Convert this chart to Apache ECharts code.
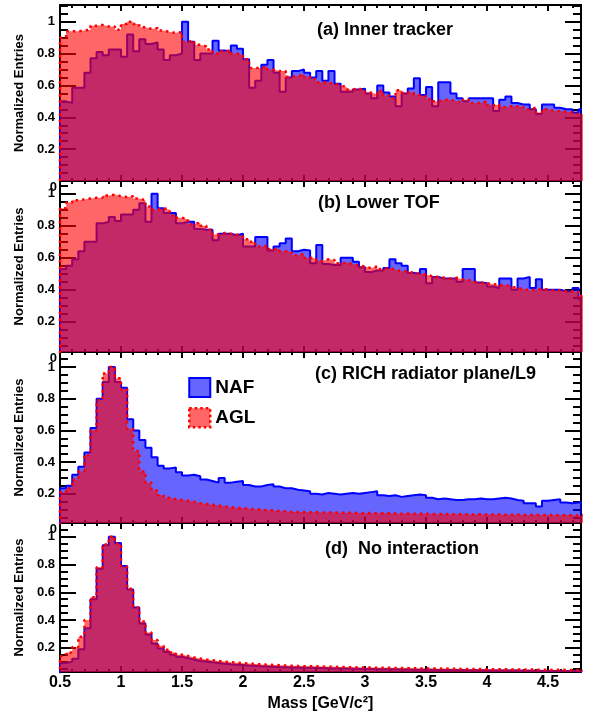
<!DOCTYPE html>
<html><head><meta charset="utf-8">
<script src="https://cdn.jsdelivr.net/npm/echarts@6/dist/echarts.min.js"></script>
<style>html,body{margin:0;padding:0;background:#fff}#c{width:595px;height:716px}</style>
</head><body><div id="c"></div>
<script>
// ---- histogram binning (lower edge of first bin, bin width) ----
const massStart = 0.5;
const binWidth = 0.05;
const massMax = 4.77;

// ---- (a) Inner tracker ----
const nafInner = [0.50,0.49,0.585,0.585,0.68,0.77,0.81,0.79,0.825,0.825,0.78,0.92,0.815,0.89,0.86,0.87,0.825,0.76,0.79,0.80,
  1.0,0.875,0.76,0.80,0.80,0.88,0.82,0.81,0.85,0.83,0.765,0.585,0.63,0.73,0.76,0.68,0.56,0.65,0.69,
  0.70,0.68,0.65,0.69,0.63,0.69,0.61,0.56,0.56,0.575,0.58,0.55,0.52,0.60,0.555,0.53,0.47,0.55,0.58,0.645,0.54,0.59,0.47,0.62,0.62,0.55,0.52,0.50,0.52,0.52,0.52,0.52,0.44,0.51,0.53,0.49,0.48,0.48,0.45,0.42,0.48,0.48,0.46,0.45,0.45,0.43,0.45];
const aglInner = [0.90,0.94,0.94,0.945,0.95,0.975,0.98,0.97,0.97,0.95,0.985,1.0,0.985,0.965,0.955,0.96,0.945,0.935,0.93,0.935,
  0.875,0.88,0.855,0.845,0.825,0.80,0.815,0.82,0.80,0.79,0.765,0.71,0.71,0.72,0.70,0.69,0.69,0.655,0.66,
  0.67,0.655,0.64,0.62,0.62,0.61,0.60,0.59,0.575,0.58,0.57,0.555,0.545,0.565,0.535,0.52,0.57,0.555,0.555,0.54,0.53,0.515,0.50,0.51,0.51,0.50,0.49,0.51,0.49,0.49,0.50,0.475,0.48,0.465,0.47,0.47,0.465,0.45,0.46,0.43,0.45,0.44,0.44,0.435,0.43,0.42,0.42];

// ---- (b) Lower TOF ----
const nafTof = [0.53,0.55,0.59,0.64,0.70,0.70,0.815,0.825,0.855,0.83,0.87,0.87,0.90,0.94,0.825,1.0,0.91,0.88,0.88,0.815,
  0.825,0.825,0.78,0.775,0.775,0.71,0.75,0.75,0.74,0.75,0.67,0.67,0.73,0.73,0.645,0.67,0.69,0.72,0.64,
  0.65,0.645,0.565,0.68,0.56,0.555,0.555,0.60,0.60,0.575,0.54,0.51,0.52,0.52,0.535,0.59,0.565,0.55,0.505,0.50,0.53,0.44,0.48,0.47,0.47,0.47,0.45,0.53,0.53,0.445,0.44,0.42,0.41,0.47,0.47,0.40,0.47,0.48,0.41,0.465,0.40,0.40,0.40,0.39,0.39,0.41,0.34];
const aglTof = [0.91,0.945,0.96,0.965,0.97,0.975,0.975,0.99,0.995,0.985,0.98,0.985,0.97,0.96,0.92,0.90,0.91,0.90,0.865,0.85,
  0.84,0.81,0.82,0.80,0.775,0.745,0.755,0.75,0.745,0.735,0.715,0.70,0.67,0.675,0.655,0.655,0.64,0.635,0.615,
  0.625,0.60,0.595,0.58,0.59,0.585,0.565,0.57,0.56,0.55,0.545,0.535,0.545,0.53,0.535,0.525,0.515,0.515,0.505,0.50,0.495,0.485,0.48,0.475,0.47,0.475,0.465,0.46,0.45,0.445,0.44,0.435,0.43,0.43,0.42,0.41,0.405,0.395,0.40,0.405,0.40,0.395,0.395,0.39,0.39,0.385,0.36];

// ---- (c) RICH radiator plane/L9 ----
const nafRich = [0.235,0.25,0.32,0.37,0.46,0.615,0.80,0.905,1.0,0.905,0.87,0.67,0.60,0.54,0.49,0.43,0.376,0.36,0.365,0.335,
  0.315,0.32,0.31,0.29,0.28,0.27,0.30,0.27,0.275,0.28,0.255,0.245,0.245,0.255,0.26,0.245,0.235,0.235,0.225,
  0.22,0.215,0.20,0.195,0.205,0.20,0.195,0.20,0.205,0.20,0.205,0.21,0.215,0.19,0.185,0.19,0.18,0.185,0.19,0.195,0.19,0.175,0.165,0.17,0.165,0.16,0.16,0.165,0.165,0.17,0.165,0.165,0.17,0.175,0.17,0.16,0.155,0.14,0.14,0.12,0.155,0.16,0.165,0.145,0.14,0.145,0.145];
const aglRich = [0.21,0.235,0.29,0.34,0.445,0.60,0.79,0.96,1.0,0.93,0.86,0.61,0.47,0.34,0.27,0.22,0.19,0.175,0.165,0.16,
  0.155,0.15,0.14,0.135,0.13,0.125,0.12,0.115,0.11,0.11,0.105,0.10,0.10,0.095,0.095,0.09,0.09,0.085,0.085,
  0.085,0.083,0.084,0.082,0.081,0.082,0.08,0.079,0.08,0.078,0.077,0.078,0.076,0.076,0.077,0.075,0.074,0.075,0.073,0.073,0.074,0.072,0.071,0.072,0.07,0.07,0.071,0.069,0.069,0.07,0.068,0.068,0.069,0.067,0.067,0.068,0.066,0.066,0.067,0.065,0.065,0.066,0.064,0.065,0.064,0.063,0.064];

// ---- (d) No interaction ----
const nafNoInt = [0.09,0.10,0.12,0.19,0.34,0.55,0.77,0.94,1.0,0.955,0.79,0.62,0.49,0.375,0.295,0.23,0.195,0.17,0.15,0.135,
  0.125,0.115,0.105,0.10,0.095,0.09,0.085,0.081,0.078,0.075,0.072,0.07,0.067,0.065,0.063,0.061,0.06,0.058,0.057,
  0.056,0.055,0.054,0.053,0.052,0.051,0.05,0.05,0.049,0.048,0.047,0.047,0.046,0.045,0.045,0.044,0.043,0.043,0.042,0.042,0.041,0.041,0.04,0.04,0.039,0.039,0.038,0.038,0.037,0.037,0.037,0.036,0.036,0.035,0.035,0.035,0.034,0.034,0.034,0.033,0.033,0.033,0.032,0.032,0.032,0.031,0.031];
const aglNoInt = [0.14,0.165,0.205,0.28,0.40,0.565,0.78,0.945,1.0,0.95,0.785,0.625,0.49,0.39,0.31,0.255,0.215,0.185,0.165,0.15,
  0.14,0.13,0.122,0.115,0.11,0.105,0.10,0.096,0.092,0.089,0.086,0.083,0.08,0.078,0.076,0.074,0.072,0.07,0.068,
  0.067,0.066,0.066,0.064,0.063,0.063,0.061,0.06,0.06,0.058,0.057,0.057,0.056,0.055,0.055,0.054,0.053,0.053,0.052,0.051,0.051,0.05,0.049,0.05,0.048,0.048,0.047,0.047,0.046,0.046,0.045,0.045,0.044,0.045,0.043,0.043,0.042,0.043,0.042,0.041,0.041,0.04,0.041,0.04,0.04,0.039,0.04];

const panelTitles = ['(a) Inner tracker', '(b) Lower TOF', '(c) RICH radiator plane/L9', '(d)  No interaction'];
const seriesNames = ['NAF', 'AGL'];
const yAxisTitle = 'Normalized Entries';
const xAxisTitle = 'Mass [GeV/c\u00B2]';

// ---- layout / style ----
const FONT = "'Liberation Sans', Arial, Helvetica, sans-serif";
const panels = [
  {nafVals: nafInner, aglVals: aglInner, top: 5,   bottom: 181, ymin: 0,     ymax: 1.105, tx: 317, ty: 30},
  {nafVals: nafTof,   aglVals: aglTof,   top: 181, bottom: 352, ymin: 0.01,  ymax: 1.08,  tx: 318, ty: 203},
  {nafVals: nafRich,  aglVals: aglRich,  top: 352, bottom: 523, ymin: 0.015, ymax: 1.095, tx: 315, ty: 374},
  {nafVals: nafNoInt, aglVals: aglNoInt, top: 523, bottom: 672, ymin: 0.025, ymax: 1.1,   tx: 325, ty: 549}
];
const NAF_FILL = 'rgba(0,0,255,0.6)', NAF_LINE = '#0000ff';
const AGL_FILL = 'rgba(255,0,0,0.6)', AGL_LINE = '#ff0000';

function stepPoints(vals) {
  const pts = [[massStart, 0]];
  for (let i = 0; i < vals.length; i++) pts.push([massStart + i * binWidth, vals[i]]);
  pts.push([massStart + vals.length * binWidth, vals[vals.length - 1]]);
  return pts;
}
const xFmt = v => Math.abs(v * 2 - Math.round(v * 2)) < 1e-6 ? String(Math.round(v * 2) / 2) : '';
const yFmt = v => { const r = Math.round(v * 5) / 5; return (Math.abs(v - r) < 1e-6 && v > 0.1 && v < 1.01) ? String(r) : ''; };

const tickStyle = {color: '#000', width: 2};
const lineSty = {show: true, onZero: false, lineStyle: {color: '#000', width: 2}};
const grids = [], xAxes = [], yAxes = [], series = [], graphics = [];
panels.forEach((p, k) => {
  const last = k === panels.length - 1;
  grids.push({left: 60, right: 14, top: p.top, height: p.bottom - p.top, show: false});
  const xBase = {type: 'value', gridIndex: k, min: massStart, max: massMax, interval: 0.5,
    axisLine: lineSty, splitLine: {show: false},
    axisTick: {show: true, inside: true, length: 6, lineStyle: tickStyle},
    minorTick: {show: true, splitNumber: 5, length: 3, lineStyle: tickStyle}};
  xAxes.push(Object.assign({}, xBase, {position: 'bottom',
    axisLabel: {show: last, formatter: xFmt, margin: 3, color: '#000', fontSize: 16, fontWeight: 'bold', fontFamily: FONT},
    name: last ? xAxisTitle : '', nameLocation: 'middle', nameGap: 24,
    nameTextStyle: {color: '#000', fontSize: 16, fontWeight: 'bold', fontFamily: FONT}}));
  xAxes.push(Object.assign({}, xBase, {position: 'top', axisLabel: {show: false}}));
  const yBase = {type: 'value', gridIndex: k, min: p.ymin, max: p.ymax, splitNumber: 5,
    axisLine: lineSty, splitLine: {show: false},
    axisTick: {show: true, inside: true, length: 16, lineStyle: tickStyle},
    minorTick: {show: true, splitNumber: 4, length: 8, lineStyle: tickStyle}};
  yAxes.push(Object.assign({}, yBase, {position: 'left',
    axisLabel: {formatter: yFmt, margin: 5, color: '#000', fontSize: 13, fontWeight: 'bold', fontFamily: FONT},
    name: yAxisTitle, nameLocation: 'middle', nameGap: 25,
    nameTextStyle: {color: '#000', fontSize: 13, fontWeight: 'bold', fontFamily: FONT}}));
  yAxes.push(Object.assign({}, yBase, {position: 'right', axisLabel: {show: false}}));
  series.push({name: seriesNames[0], type: 'line', xAxisIndex: 2 * k, yAxisIndex: 2 * k, step: 'end',
    data: stepPoints(p.nafVals), symbol: 'none', showSymbol: false, clip: true, z: 2,
    itemStyle: {color: NAF_FILL},
    lineStyle: {color: NAF_LINE, width: 2},
    areaStyle: {color: NAF_FILL, opacity: 1, origin: 'start'}});
  series.push({name: seriesNames[1], type: 'line', xAxisIndex: 2 * k, yAxisIndex: 2 * k, step: 'end',
    data: stepPoints(p.aglVals), symbol: 'none', showSymbol: false, clip: true, z: 3,
    itemStyle: {color: AGL_FILL},
    lineStyle: {color: AGL_LINE, width: 2.5, type: [2.5, 4]},
    areaStyle: {color: AGL_FILL, opacity: 1, origin: 'start'}});
  graphics.push({type: 'text', x: p.tx, y: p.ty, z: 20,
    style: {text: panelTitles[k], fill: '#000', font: "bold 18px " + FONT, textAlign: 'left', textVerticalAlign: 'middle'}});
  if (k > 0) {
    graphics.push({type: 'text', x: 57, y: p.top + 6, z: 20,
      style: {text: '0', fill: '#000', font: "bold 13px " + FONT, textAlign: 'right', textVerticalAlign: 'middle'}});
  }
});

const chart = echarts.init(document.getElementById('c'), null, {renderer: 'canvas'});
chart.setOption({
  animation: false,
  backgroundColor: '#fff',
  grid: grids, xAxis: xAxes, yAxis: yAxes, series: series,
  legend: {
    data: [
      {name: 'NAF', icon: 'rect', itemStyle: {color: NAF_FILL, borderColor: NAF_LINE, borderWidth: 2}},
      {name: 'AGL', icon: 'rect', itemStyle: {color: AGL_FILL, borderColor: AGL_LINE, borderWidth: 2.5, borderType: [2.5, 3]}}
    ],
    orient: 'vertical', left: 188, top: 377, itemWidth: 21, itemHeight: 19, itemGap: 9,
    selectedMode: false, padding: 0,
    textStyle: {color: '#000', fontSize: 19, fontWeight: 'bold', fontFamily: FONT, padding: [0, 0, 0, 0]}
  },
  graphic: graphics
});
</script>
</body></html>
